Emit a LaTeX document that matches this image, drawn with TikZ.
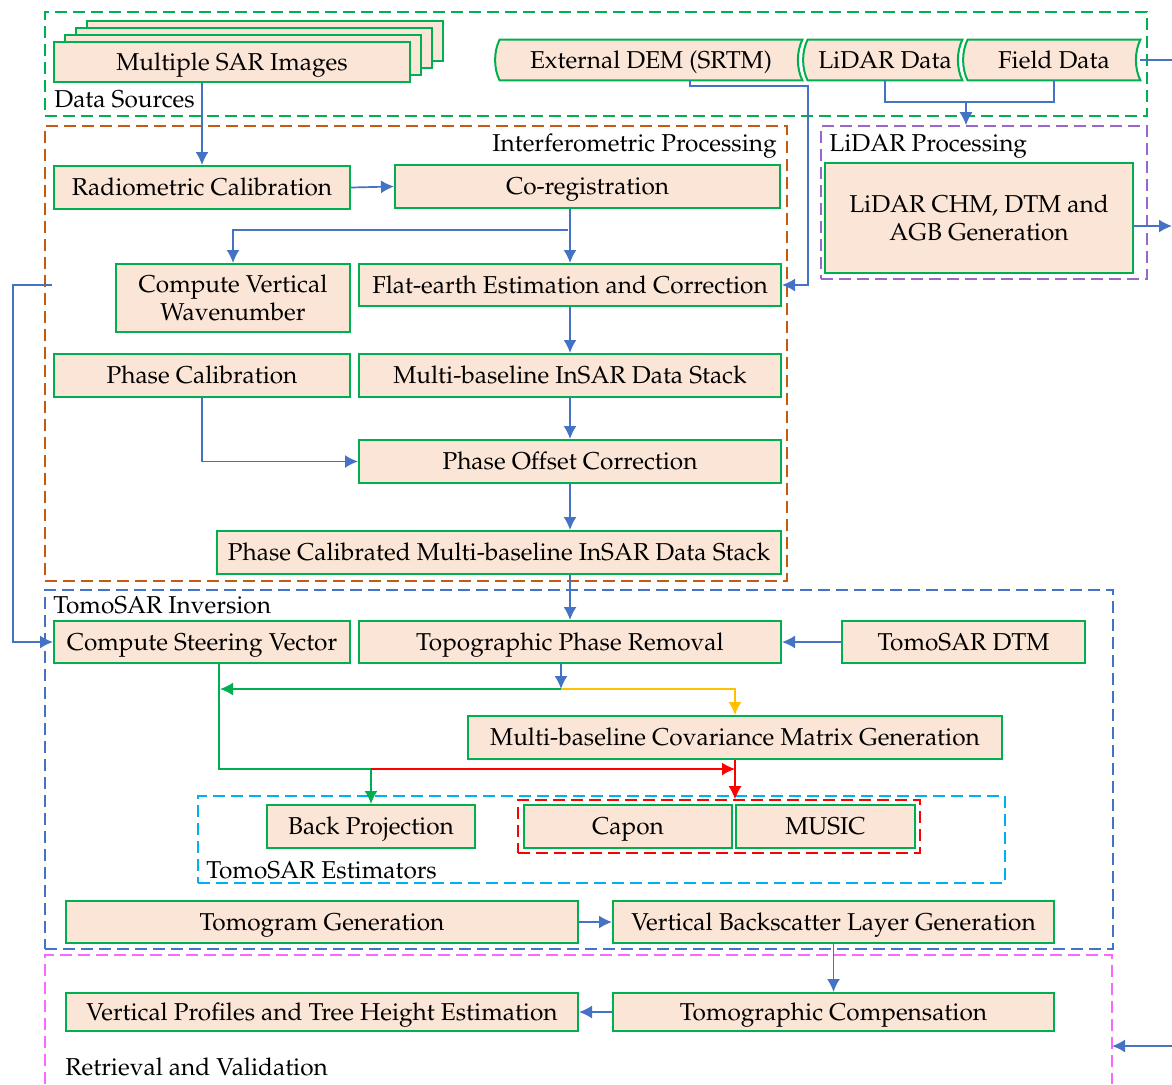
\documentclass[tikz,border=0pt]{standalone}
\usepackage[T1]{fontenc}
\usepackage{mathpazo}
\usetikzlibrary{arrows.meta,calc,backgrounds}
\definecolor{boxfill}{HTML}{FBE5D6}
\definecolor{boxgreen}{HTML}{00B050}
\definecolor{flowblue}{HTML}{4472C4}
\definecolor{grporange}{HTML}{C55A11}
\definecolor{grppurple}{HTML}{9966CC}
\definecolor{grpcyan}{HTML}{00B0F0}
\definecolor{grppink}{HTML}{FF66FF}
\definecolor{flowyellow}{HTML}{FFC000}
\tikzset{>={Latex[length=6.5pt,width=6.5pt]}}

% stored data outline round a node
\newcommand\storedshape[1]{%
  \filldraw[proc] (#1.north west) -- (#1.north east)
    .. controls +(-3pt,-6pt) and +(-3pt,6pt) .. (#1.south east)
    -- (#1.south west)
    .. controls +(-3pt,6pt) and +(-3pt,-6pt) .. (#1.north west) -- cycle;}

\begin{document}
\begin{tikzpicture}[x=0.5pt,y=-0.5pt,
    font=\fontsize{12.2}{13.6}\selectfont,
    proc/.style={draw=boxgreen,fill=boxfill,line width=1pt,inner sep=0pt,align=center},
    proc1/.style={proc,text height=2ex,text depth=.25ex},
    tape/.style={inner sep=0pt,text height=2ex,text depth=.25ex},
    lbl/.style={inner sep=0pt},
    grp/.style={draw=#1,dash pattern=on 6pt off 3pt,line width=0.8pt,inner sep=0pt},
    line/.style={draw=flowblue,line width=0.85pt},
    flow/.style={line,->},
    gflow/.style={draw=boxgreen,line width=0.85pt,->},
    rflow/.style={draw=red,line width=0.85pt,->},
    yflow/.style={draw=flowyellow,line width=0.85pt,->}]
    \useasboundingbox (0,0) rectangle (1172,1084);

    % group frames
    \node[grp=boxgreen,minimum width=551pt,minimum height=52pt] (dsrc) at (596,64) {};
    \node[grp=grporange,minimum width=371pt,minimum height=227.5pt] (ifp) at (416,353.5) {};
    \node[grp=grppurple,minimum width=163pt,minimum height=76.5pt] (lproc) at (984,202.5) {};
    \node[grp=flowblue,minimum width=534pt,minimum height=179.5pt] (tomo) at (579,769.5) {};
    \node[grp=grpcyan,minimum width=403.5pt,minimum height=43.5pt] (est) at (601.5,839.5) {};
    \node[grp=red,minimum width=201pt,minimum height=26.5pt] (redg) at (719,826.5) {};
    \draw[grp=grppink] (45,1084) -- (45,955) -- (1112,955) -- (1112,1084);

    \node[lbl,anchor=west] (dsrclbl) at (54,99) {Data Sources};
    \node[lbl,anchor=east] (ifplbl) at (777,146) {Interferometric Processing};
    \node[lbl,anchor=west] (lproclbl) at (829,146) {LiDAR Processing};
    \node[lbl,anchor=west] (tomolbl) at (53,605) {TomoSAR Inversion};
    \node[lbl,anchor=west] (estlbl) at (206,870) {TomoSAR Estimators};
    \node[lbl,anchor=west] (retrlbl) at (65,1067) {Retrieval and Validation};

    % data sources
    \foreach \k in {3,2,1}
      \draw[proc] (54+11*\k,42-7*\k) rectangle (410+11*\k,82-7*\k);
    \node[proc1,minimum width=178pt,minimum height=20pt] (sar) at (232,62) {Multiple SAR Images};
    \node[tape,minimum width=151pt,minimum height=20pt] (dem) at (651,60) {External DEM (SRTM)};
    \node[tape,minimum width=77pt,minimum height=20pt] (lidar) at (885,60) {LiDAR Data};
    \node[tape,minimum width=86pt,minimum height=20pt] (field) at (1054,60) {Field Data};
    \begin{scope}[on background layer]
      \storedshape{dem}
      \storedshape{lidar}
      \storedshape{field}
    \end{scope}

    % interferometric processing
    \node[proc1,minimum width=148pt,minimum height=21.5pt] (rc) at (202,187.5) {Radiometric Calibration};
    \node[proc1,minimum width=192.5pt,minimum height=21.5pt] (coreg) at (587.5,186.5) {Co-registration};
    \node[proc,minimum width=117pt,minimum height=34pt] (kz) at (233,298) {Compute Vertical\\Wavenumber};
    \node[proc1,minimum width=211pt,minimum height=21pt] (flat) at (570,285) {Flat-earth Estimation and Correction};
    \node[proc1,minimum width=148pt,minimum height=21.5pt] (pcal) at (202,375.5) {Phase Calibration};
    \node[proc1,minimum width=211pt,minimum height=21.5pt] (stack) at (570,375.5) {Multi-baseline InSAR Data Stack};
    \node[proc1,minimum width=211pt,minimum height=21.5pt] (poc) at (570,461.5) {Phase Offset Correction};
    \node[proc1,minimum width=282pt,minimum height=21.5pt] (pcstack) at (499,552.5) {Phase Calibrated Multi-baseline InSAR Data Stack};

    % lidar processing
    \node[proc,minimum width=154pt,minimum height=55pt] (lchm) at (979,218) {LiDAR CHM, DTM and\\AGB Generation};

    % tomosar inversion
    \node[proc1,minimum width=148pt,minimum height=21pt] (csv) at (202,642) {Compute Steering Vector};
    \node[proc1,minimum width=211pt,minimum height=21pt] (tpr) at (570,642) {Topographic Phase Removal};
    \node[proc1,minimum width=121.5pt,minimum height=21pt] (dtm) at (963.5,642) {TomoSAR DTM};
    \node[proc1,minimum width=267pt,minimum height=21.5pt] (cov) at (735,737.5) {Multi-baseline Covariance Matrix Generation};
    \node[proc1,minimum width=104pt,minimum height=21.5pt] (bp) at (371,826.5) {Back Projection};
    \node[proc1,minimum width=104pt,minimum height=21.5pt] (capon) at (628,826.5) {Capon};
    \node[proc1,minimum width=89.5pt,minimum height=21.5pt] (music) at (825.5,826.5) {MUSIC};
    \node[proc1,minimum width=256pt,minimum height=21pt] (tg) at (322,922) {Tomogram Generation};
    \node[proc1,minimum width=220.5pt,minimum height=21pt] (vblg) at (833.5,922) {Vertical Backscatter Layer Generation};

    % retrieval and validation
    \node[proc1,minimum width=256pt,minimum height=19pt] (vp) at (322,1012) {Vertical Profiles and Tree Height Estimation};
    \node[proc1,minimum width=220.5pt,minimum height=19pt] (tc) at (833.5,1012) {Tomographic Compensation};

    % junctions and loose ends
    \coordinate (demturn) at (808,86);
    \coordinate (dsjoin) at (966,102);
    \coordinate (fout) at (1172,60);
    \coordinate (lout) at (1172,226);
    \coordinate (cbr) at (568,230);
    \coordinate (kzleft) at (52,285);
    \coordinate (lrail) at (13,285);
    \coordinate (split) at (561,689);
    \coordinate (gtap) at (220,689);
    \coordinate (gsplit) at (371,769);
    \coordinate (rin) at (1172,1046);
    \coordinate (retrR) at (1112,1046);

    % connectors
    \draw[flow] (rc.north |- sar.south) -- (rc.north);
    \draw[flow] ([xshift=19.5pt]dem.south) |- (demturn) |- (flat.east);
    \draw[line] (lidar.south) |- (dsjoin) -| (field.south);
    \draw[flow] (dsjoin) -- (dsjoin |- lproc.north);
    \draw[line] (field.east) -- (fout);
    \draw[flow] (lchm.east |- lout) -- (lout);
    \draw[flow] (rc.east) -- (coreg.west);
    \draw[flow] (flat.north |- coreg.south) -- (flat.north);
    \draw[flow] (cbr) -| (kz.north);
    \draw[flow] (kzleft) -- (lrail) |- (csv.west);
    \draw[flow] (flat.south) -- (stack.north);
    \draw[flow] (stack.south) -- (poc.north);
    \draw[flow] (pcal.south) |- (poc.west);
    \draw[flow] (poc.south) -- (poc.south |- pcstack.north);
    \draw[flow] (tpr.north |- pcstack.south) -- (tpr.north);
    \draw[flow] (dtm.west) -- (tpr.east);
    \draw[flow] (split |- tpr.south) -- (split);
    \draw[gflow] (split) -- (gtap);
    \draw[yflow] (split) -| (cov.north);
    \draw[draw=boxgreen,line width=0.85pt] ([xshift=8.5pt]csv.south) |- (gsplit);
    \draw[gflow] (gsplit) -- (bp.north);
    \draw[rflow] (gsplit) -- (cov.south |- gsplit);
    \draw[rflow] (cov.south) -- (cov.south |- redg.north);
    \draw[flow] (tg.east) -- (vblg.west);
    \draw[flow] (vblg.south) -- (tc.north);
    \draw[flow] (tc.west) -- (vp.east);
    \draw[flow] (rin) -- (retrR);
\end{tikzpicture}
\end{document}
